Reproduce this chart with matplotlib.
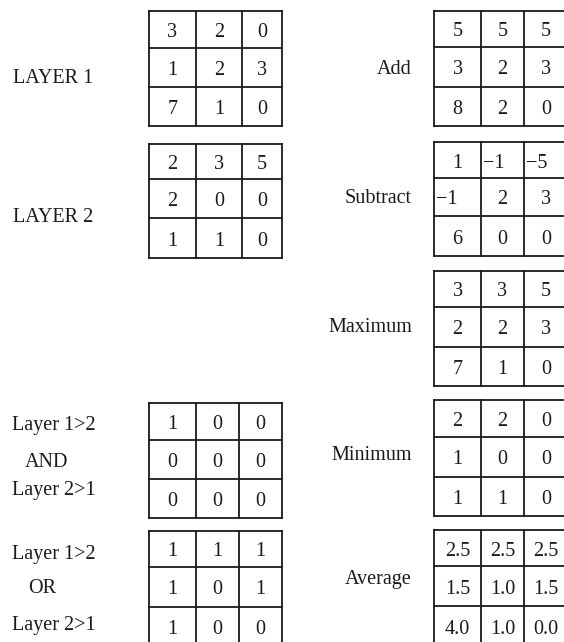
import numpy as np
import matplotlib
matplotlib.use('Agg')
import matplotlib.pyplot as plt

# matrix values
layer1 = [['3', '2', '0'], ['1', '2', '3'], ['7', '1', '0']]
layer2 = [['2', '3', '5'], ['2', '0', '0'], ['1', '1', '0']]
add_vals = [['5', '5', '5'], ['3', '2', '3'], ['8', '2', '0']]
sub_vals = [['1', '\u22121', '\u22125'], ['\u22121', '2', '3'], ['6', '0', '0']]
max_vals = [['3', '3', '5'], ['2', '2', '3'], ['7', '1', '0']]
min_vals = [['2', '2', '0'], ['1', '0', '0'], ['1', '1', '0']]
avg_vals = [['2.5', '2.5', '2.5'], ['1.5', '1.0', '1.5'], ['4.0', '1.0', '0.0']]
and_vals = [['1', '0', '0'], ['0', '0', '0'], ['0', '0', '0']]
or_vals = [['1', '1', '1'], ['1', '0', '1'], ['1', '0', '0']]

plt.rcParams['font.family'] = ['Liberation Serif', 'DejaVu Serif']
FS = 14.5
INK = '#1a1a1a'

fig = plt.figure(figsize=(5.64, 6.42), dpi=100)
ax = fig.add_axes([0, 0, 1, 1])
ax.set_xlim(0, 564)
ax.set_ylim(642, 0)
ax.axis('off')


def draw_grid(vals, x0, y0, col_w, row_h):
    xe = x0 + np.concatenate([[0], np.cumsum(col_w)])
    ye = y0 + np.concatenate([[0], np.cumsum(row_h)])
    v = ax.vlines(xe, ye[0], ye[-1], color=INK, lw=1.3)
    h = ax.hlines(ye, xe[0], xe[-1], color=INK, lw=1.3)
    v.set_capstyle('projecting')
    h.set_capstyle('projecting')
    for i, row in enumerate(vals):
        for j, s in enumerate(row):
            yc = (ye[i] + ye[i + 1]) / 2 + 3
            if s.startswith('\u2212'):
                ax.text(xe[j] + 2, yc, s, ha='left', va='center', fontsize=FS, color=INK)
            else:
                ax.text((xe[j] + xe[j + 1]) / 2, yc, s, ha='center', va='center',
                        fontsize=FS, color=INK)


# left column
draw_grid(layer1, 149, 11, [47, 46, 40], [37, 39, 39])
draw_grid(layer2, 149, 144, [47, 46, 40], [35, 39, 40])
draw_grid(and_vals, 149, 403, [47, 43, 43], [37, 39, 39])
draw_grid(or_vals, 149, 531, [47, 43, 43], [36, 40, 40])

# right column
right_w = [47, 43, 44]
draw_grid(add_vals, 434, 11, right_w, [36, 40, 39])
draw_grid(sub_vals, 434, 142, right_w, [36, 38, 40])
draw_grid(max_vals, 434, 271, right_w, [36, 40, 39])
draw_grid(min_vals, 434, 400, right_w, [37, 40, 39])
draw_grid(avg_vals, 434, 530, right_w, [36, 40, 40])

# labels
def label(x, y, s, ha='left'):
    ax.text(x, y, s, ha=ha, va='baseline', fontsize=FS, color=INK)

label(13, 83, 'LAYER 1')
label(13, 222, 'LAYER 2')
label(12, 430, 'Layer 1>2')
label(25, 467, 'AND')
label(12, 495, 'Layer 2>1')
label(12, 559, 'Layer 1>2')
label(28, 593, 'OR')
label(12, 630, 'Layer 2>1')

label(412, 74, 'Add', ha='right')
label(412, 203, 'Subtract', ha='right')
label(412, 332, 'Maximum', ha='right')
label(412, 460, 'Minimum', ha='right')
label(412, 584, 'Average', ha='right')

fig.savefig('out.png', dpi=100)
